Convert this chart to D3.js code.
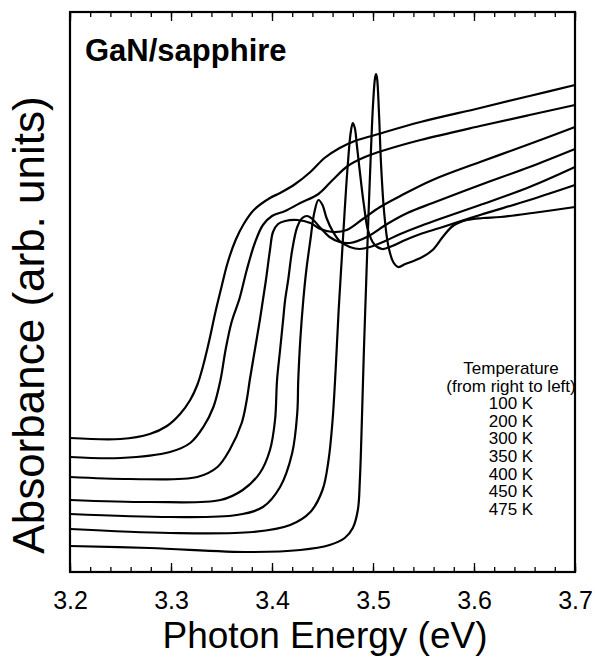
<!DOCTYPE html>
<html>
<head>
<meta charset="utf-8">
<script src="https://cdn.jsdelivr.net/npm/d3@7"></script>
<style>
  html, body { margin: 0; padding: 0; background: #fff; }
  svg { display: block; }
  text { font-family: "Liberation Sans", Arial, Helvetica, sans-serif; fill: #000; }
</style>
</head>
<body>
<svg id="chart" width="595" height="660"></svg>
<script>
// Absorption spectra of GaN on sapphire at several temperatures.
// Each spectrum: [photon energy (eV), absorbance (arb. units, offset per trace)]
const temperatures = ["100 K", "200 K", "300 K", "350 K", "400 K", "450 K", "475 K"];

const spectrum100K = [
  [3.200,0.26],[3.279,0.24],[3.378,0.20],[3.428,0.22],[3.457,0.27],[3.472,0.34],
  [3.480,0.44],[3.485,0.62],[3.487,0.92],[3.489,1.52],[3.491,2.22],[3.493,2.82],
  [3.495,3.42],[3.498,4.22],[3.500,4.67],[3.502,4.94],[3.503,4.98],[3.504,4.94],
  [3.506,4.57],[3.508,4.07],[3.511,3.60],[3.515,3.27],[3.520,3.10],[3.525,3.05],
  [3.532,3.08],[3.547,3.14],[3.559,3.22],[3.569,3.35],[3.579,3.46],[3.593,3.52],
  [3.609,3.54],[3.626,3.55],[3.658,3.59],[3.700,3.65]
];
const spectrum200K = [
  [3.200,0.43],[3.299,0.39],[3.381,0.40],[3.418,0.47],[3.438,0.60],[3.450,0.82],
  [3.456,1.12],[3.460,1.52],[3.463,2.02],[3.466,2.62],[3.469,3.12],[3.472,3.62],
  [3.475,4.07],[3.478,4.40],[3.480,4.49],[3.482,4.44],[3.484,4.27],[3.487,4.00],
  [3.491,3.67],[3.495,3.42],[3.501,3.28],[3.509,3.23],[3.519,3.26],[3.532,3.32],
  [3.547,3.38],[3.566,3.44],[3.606,3.57],[3.655,3.72],[3.700,3.87]
];
const spectrum300K = [
  [3.200,0.58],[3.299,0.55],[3.365,0.57],[3.391,0.65],[3.408,0.85],[3.420,1.19],
  [3.425,1.59],[3.426,1.92],[3.428,2.32],[3.431,2.72],[3.434,3.02],[3.438,3.32],
  [3.442,3.60],[3.446,3.72],[3.450,3.67],[3.454,3.54],[3.460,3.41],[3.467,3.31],
  [3.477,3.25],[3.487,3.23],[3.497,3.25],[3.512,3.31],[3.527,3.38],[3.547,3.46],
  [3.566,3.53],[3.606,3.67],[3.655,3.85],[3.700,4.05]
];
const spectrum350K = [
  [3.200,0.72],[3.279,0.70],[3.349,0.72],[3.371,0.82],[3.388,0.99],[3.398,1.22],
  [3.403,1.52],[3.405,1.92],[3.408,2.22],[3.411,2.52],[3.413,2.72],[3.416,2.92],
  [3.420,3.22],[3.425,3.45],[3.430,3.54],[3.435,3.56],[3.440,3.53],[3.448,3.44],
  [3.457,3.35],[3.467,3.30],[3.477,3.29],[3.494,3.35],[3.514,3.48],[3.534,3.59],
  [3.559,3.69],[3.606,3.87],[3.655,4.05],[3.700,4.23]
];
const spectrum400K = [
  [3.200,0.95],[3.259,0.93],[3.326,0.95],[3.346,1.05],[3.358,1.22],[3.370,1.49],
  [3.375,1.72],[3.378,1.92],[3.383,2.22],[3.388,2.52],[3.391,2.72],[3.394,2.92],
  [3.398,3.22],[3.401,3.40],[3.406,3.48],[3.413,3.51],[3.425,3.52],[3.438,3.49],
  [3.448,3.43],[3.460,3.40],[3.474,3.42],[3.490,3.53],[3.507,3.65],[3.527,3.76],
  [3.559,3.92],[3.606,4.10],[3.655,4.28],[3.700,4.45]
];
const spectrum450K = [
  [3.200,1.15],[3.250,1.14],[3.299,1.20],[3.319,1.29],[3.332,1.45],[3.342,1.65],
  [3.349,1.92],[3.354,2.22],[3.360,2.50],[3.368,2.74],[3.375,3.02],[3.383,3.29],
  [3.391,3.47],[3.400,3.56],[3.413,3.61],[3.428,3.69],[3.446,3.78],[3.460,3.92],
  [3.475,4.06],[3.492,4.15],[3.512,4.22],[3.547,4.32],[3.606,4.46],[3.655,4.57],
  [3.700,4.67]
];
const spectrum475K = [
  [3.200,1.34],[3.250,1.33],[3.279,1.38],[3.296,1.46],[3.309,1.58],[3.319,1.72],
  [3.326,1.87],[3.332,2.07],[3.338,2.32],[3.344,2.60],[3.350,2.85],[3.356,3.09],
  [3.364,3.32],[3.372,3.48],[3.382,3.62],[3.398,3.74],[3.408,3.79],[3.423,3.88],
  [3.438,4.00],[3.452,4.14],[3.467,4.24],[3.482,4.31],[3.502,4.37],[3.547,4.50],
  [3.606,4.64],[3.655,4.76],[3.700,4.87]
];
const spectra = [spectrum100K, spectrum200K, spectrum300K, spectrum350K,
                 spectrum400K, spectrum450K, spectrum475K];

const xTicks = [3.2, 3.3, 3.4, 3.5, 3.6, 3.7];

const svg = d3.select("#chart");
const margin = { left: 70, right: 20, top: 12, bottom: 88 };
const W = 595, H = 660;
const x = d3.scaleLinear().domain([3.2, 3.7]).range([margin.left, W - margin.right]);
const y = d3.scaleLinear().domain([0, 5.6]).range([H - margin.bottom, margin.top]);

// spectra
const line = d3.line()
  .x(d => x(d[0]))
  .y(d => y(d[1]))
  .curve(d3.curveCatmullRom.alpha(0.5));

svg.append("g")
  .selectAll("path")
  .data(spectra)
  .join("path")
  .attr("d", line)
  .attr("fill", "none")
  .attr("stroke", "#000")
  .attr("stroke-width", 2.2)
  .attr("stroke-linejoin", "round");

// axes with inward ticks on top and bottom
const minor = x.ticks(25);
const gB = svg.append("g").attr("transform", `translate(0,${y(0)})`);
gB.call(d3.axisBottom(x).tickValues(minor).tickSize(-5).tickFormat(""));
gB.append("g").call(d3.axisBottom(x).tickValues(xTicks).tickSize(-9).tickPadding(19)
  .tickFormat(d3.format(".1f")));
const gT = svg.append("g").attr("transform", `translate(0,${y(5.6)})`);
gT.call(d3.axisTop(x).tickValues(minor).tickSize(-5).tickFormat(""));
gT.append("g").call(d3.axisTop(x).tickValues(xTicks).tickSize(-9).tickFormat(""));
svg.selectAll(".domain").remove();
svg.selectAll(".tick line").attr("stroke", "#000").attr("stroke-width", 1.3);
svg.selectAll(".tick text")
  .style("font-size", "25px")
  .style("font-family", "'Liberation Sans', Arial, sans-serif");

// frame
svg.append("rect")
  .attr("x", x(3.2)).attr("y", y(5.6))
  .attr("width", x(3.7) - x(3.2)).attr("height", y(0) - y(5.6))
  .attr("fill", "none").attr("stroke", "#000").attr("stroke-width", 2.2);

// titles
svg.append("text")
  .attr("x", 325).attr("y", 648)
  .attr("text-anchor", "middle").style("font-size", "37px")
  .text("Photon Energy (eV)");
svg.append("text")
  .attr("transform", "translate(44,325) rotate(-90)")
  .attr("text-anchor", "middle").style("font-size", "44px")
  .text("Absorbance (arb. units)");
svg.append("text")
  .attr("x", 85).attr("y", 61)
  .style("font-size", "31px").attr("font-weight", "bold")
  .text("GaN/sapphire");

// legend
const legendLines = ["Temperature", "(from right to left)"].concat(temperatures);
svg.append("g")
  .selectAll("text")
  .data(legendLines)
  .join("text")
  .attr("x", 511)
  .attr("y", (d, i) => 374 + i * 17.6)
  .attr("text-anchor", "middle")
  .style("font-size", "17px")
  .text(d => d);
</script>
</body>
</html>
